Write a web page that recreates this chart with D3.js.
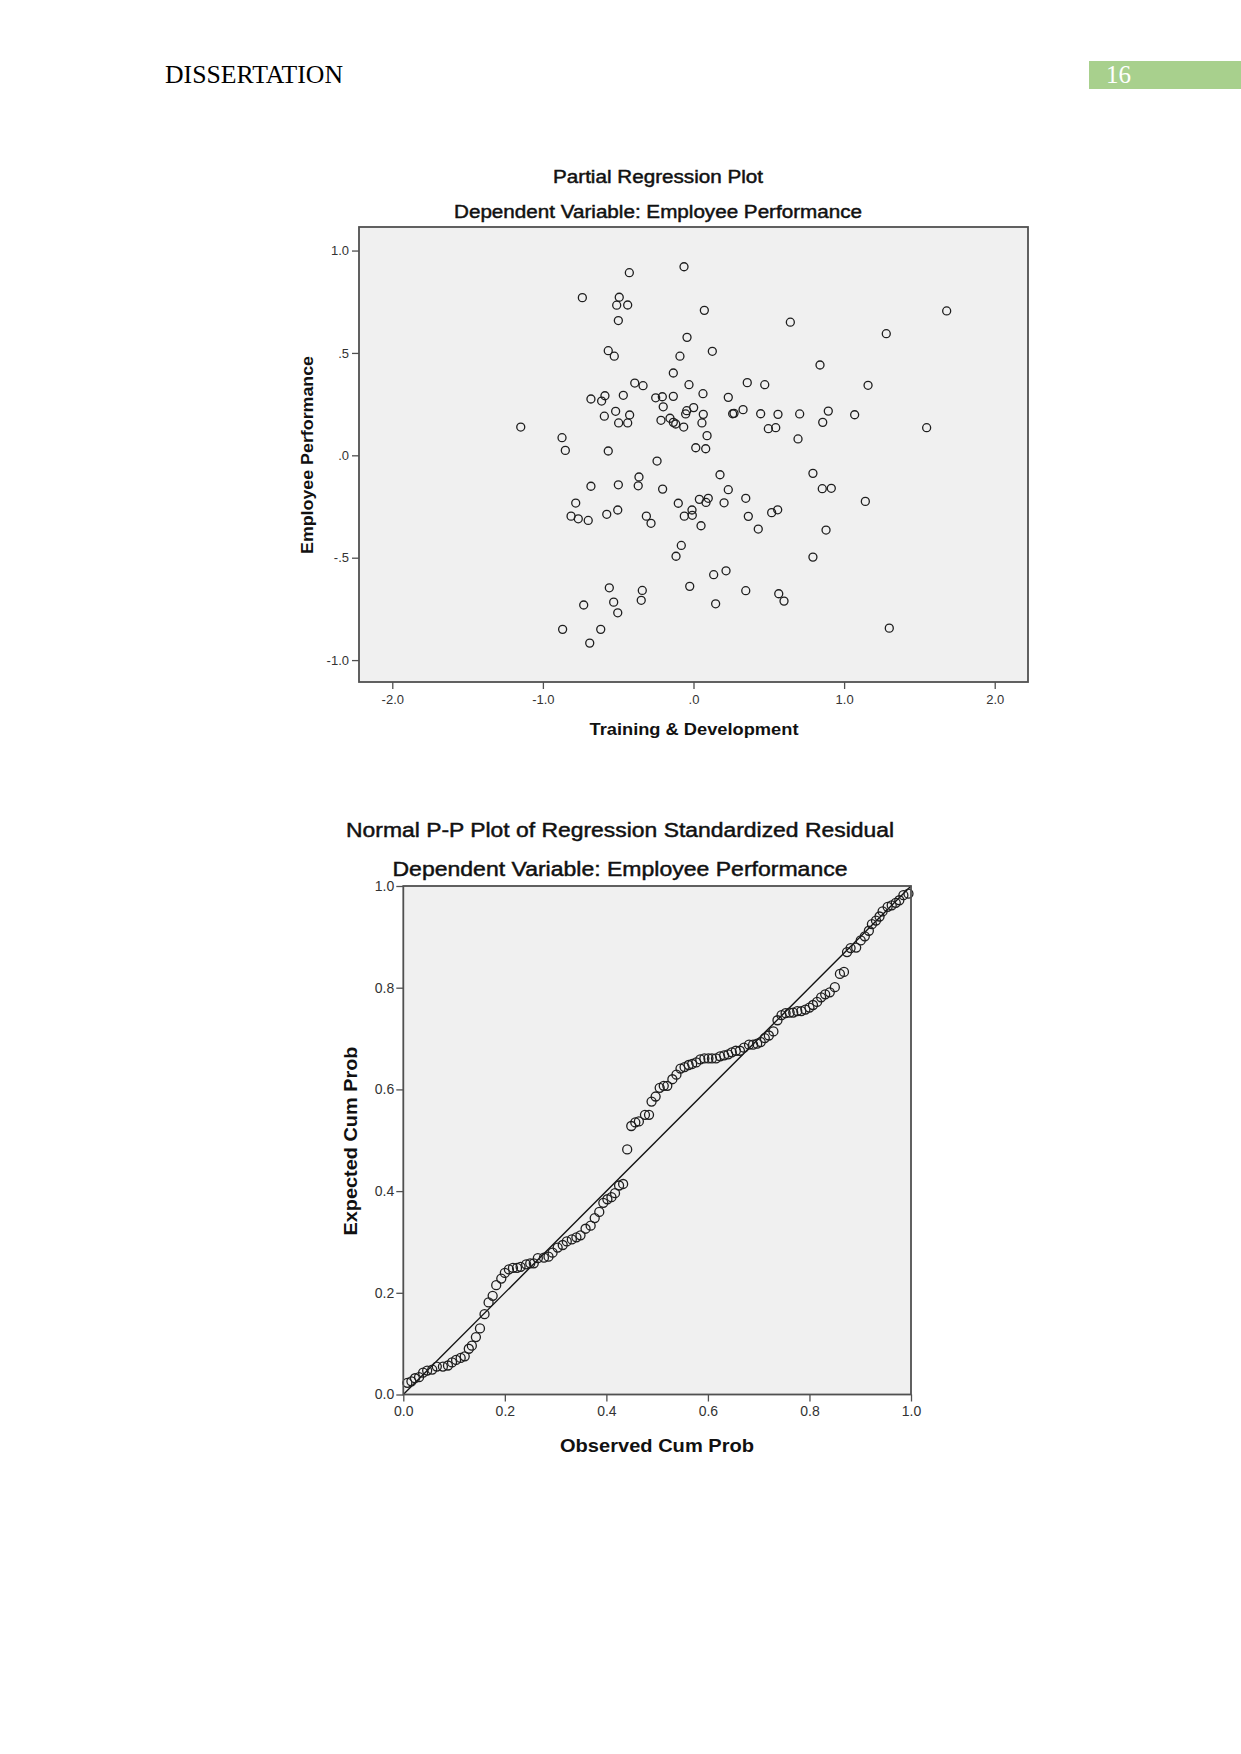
<!DOCTYPE html>
<html>
<head>
<meta charset="utf-8">
<script src="https://cdn.jsdelivr.net/npm/d3@7"></script>
<style>
	body {margin: 0; background: #fff;}
	svg {display: block;}
</style>
</head>
<body>
<div id="page"></div>
<script>

//PAGE TEXT
var headerText = "DISSERTATION";
var pageNumber = "16";

//PARTIAL REGRESSION PLOT (TRAINING & DEVELOPMENT vs EMPLOYEE PERFORMANCE)
var scatterTitle = "Partial Regression Plot";
var scatterSubtitle = "Dependent Variable: Employee Performance";
var scatterXLabel = "Training & Development";
var scatterYLabel = "Employee Performance";
var scatterXTicks = [-2, -1, 0, 1, 2];
var scatterYTicks = [-1, -0.5, 0, 0.5, 1];
var scatterX = [
	-0.426, -0.738, -0.493, -0.510, -0.437, -0.499, -0.566, -0.526, -0.390, -0.335,
	-0.681, -0.610, -0.588, -0.466, -0.251, -0.207, -0.201, -0.517, -0.592, -0.424,
	-0.497, -0.437, -0.216, -0.156, -1.147, -0.873, -0.851, -0.566, -0.242, -0.362,
	-0.367, -0.499, -0.681, -0.205, -0.782, -0.813, -0.765, -0.699, -0.576, -0.503,
	-0.313, -0.282, -0.559, -0.340, -0.347, -0.729, -0.530, -0.503, -0.869, -0.616,
	-0.689, -0.063, 0.072, 0.643, 1.681, 1.280, -0.043, -0.090, 0.125, 0.840,
	-0.134, -0.030, 0.357, 0.473, 1.159, -0.134, 0.063, 0.231, 0.001, -0.045,
	-0.052, 0.065, 0.260, 0.269, 0.329, 0.446, 0.561, 0.705, 0.895, 1.070,
	0.858,
	-0.134, -0.118, -0.065, 0.056, 0.090, 0.497, 0.546, 0.694, 1.548, 0.015,
	0.081, 0.176, 0.231, 0.793, 0.855, 0.915, -0.101, 0.039, 0.098, 0.083,
	0.203, 0.347, 1.141, -0.010, -0.061, -0.008, 0.050, 0.364, 0.519, 0.559,
	0.430, 0.880, -0.081, -0.116, 0.793, 0.216, 0.134, -0.025, 0.347, 0.566,
	0.601, 0.147, 1.300
];
var scatterY = [
	0.892, 0.770, 0.772, 0.733, 0.734, 0.658, 0.511, 0.484, 0.353, 0.340,
	0.275, 0.265, 0.291, 0.293, 0.281, 0.286, 0.237, 0.215, 0.191, 0.197,
	0.158, 0.158, 0.171, 0.181, 0.138, 0.086, 0.024, 0.021, -0.028, -0.106,
	-0.149, -0.144, -0.151, -0.165, -0.233, -0.297, -0.310, -0.318, -0.288, -0.267,
	-0.297, -0.332, -0.647, -0.660, -0.708, -0.731, -0.717, -0.769, -0.850, -0.850,
	-0.917, 0.921, 0.708, 0.650, 0.705, 0.594, 0.576, 0.484, 0.508, 0.441,
	0.402, 0.345, 0.355, 0.345, 0.342, 0.288, 0.301, 0.283, 0.233, 0.218,
	0.202, 0.200, 0.203, 0.205, 0.223, 0.203, 0.200, 0.202, 0.216, 0.198,
	0.161,
	0.161, 0.153, 0.138, 0.158, 0.096, 0.130, 0.135, 0.080, 0.135, 0.037,
	0.032, -0.095, -0.168, -0.088, -0.163, -0.161, -0.234, -0.215, -0.210, -0.230,
	-0.232, -0.210, -0.225, -0.267, -0.297, -0.293, -0.344, -0.298, -0.280, -0.266,
	-0.360, -0.365, -0.440, -0.493, -0.497, -0.564, -0.583, -0.640, -0.661, -0.676,
	-0.712, -0.725, -0.844
];

//NORMAL P-P PLOT OF REGRESSION STANDARDIZED RESIDUAL
var ppTitle = "Normal P-P Plot of Regression Standardized Residual";
var ppSubtitle = "Dependent Variable: Employee Performance";
var ppXLabel = "Observed Cum Prob";
var ppYLabel = "Expected Cum Prob";
var ppTicks = [0, 0.2, 0.4, 0.6, 0.8, 1.0];
var ppObserved = [
	.008, .016, .023, .031, .039, .047, .057, .066, .078, .088,
	.096, .104, .113, .121, .129, .135, .143, .151, .160, .168,
	.176, .183, .193, .200, .208, .216, .224, .231, .242, .250,
	.257, .265, .277, .286, .294, .304, .314, .322, .332, .341,
	.349, .359, .369, .377, .386, .394, .402, .410, .417, .425,
	.433, .441, .449, .457, .464, .476, .484, .489, .497, .505,
	.513, .520, .530, .538, .546, .554, .562, .569, .577, .585,
	.593, .601, .608, .616, .624, .632, .640, .647, .655, .663,
	.671, .681, .689, .697, .704, .712, .720, .729, .737, .745,
	.753, .761, .768, .776, .784, .792, .800, .807, .815, .823,
	.831, .840, .850, .860, .868, .874, .881, .892, .901, .909,
	.917, .923, .931, .938, .944, .954, .962, .970, .977, .985,
	.995
];
var ppExpected = [
	.023, .026, .032, .034, .043, .047, .049, .055, .055, .057,
	.063, .068, .072, .075, .090, .096, .113, .130, .158, .181,
	.194, .215, .228, .239, .246, .249, .249, .251, .256, .258,
	.258, .268, .269, .271, .279, .289, .294, .301, .305, .309,
	.313, .326, .332, .347, .359, .377, .384, .388, .396, .411,
	.414, .482, .528, .535, .537, .550, .550, .576, .586, .603,
	.607, .607, .620, .629, .641, .644, .648, .650, .653, .659,
	.661, .661, .661, .661, .665, .667, .669, .673, .676, .676,
	.682, .688, .688, .690, .693, .701, .706, .714, .736, .746,
	.750, .751, .751, .754, .754, .757, .761, .766, .772, .781,
	.787, .791, .801, .827, .831, .870, .878, .879, .893, .901,
	.912, .925, .932, .940, .950, .959, .962, .967, .972, .982,
	.985
];


var SANS = "Arial, 'Liberation Sans', sans-serif";
var SERIF = "'Times New Roman', 'Liberation Serif', serif";
var BOX_FILL = "#f0f0f0";
var BOX_STROKE = "#505050";
var INK = "#1e1e1e";

var svg = d3.select("#page").append("svg")
	.attr("width", 1241)
	.attr("height", 1754);

svg.append("rect").attr("width", 1241).attr("height", 1754).attr("fill", "#fff");

//PAGE HEADER
svg.append("text")
	.attr("x", 165).attr("y", 83)
	.style("font-family", SERIF).style("font-size", "25px")
	.attr("fill", "#000")
	.attr("textLength", 178)
	.attr("lengthAdjust", "spacingAndGlyphs")
	.text(headerText);
svg.append("rect")
	.attr("x", 1089).attr("y", 61).attr("width", 152).attr("height", 28)
	.attr("fill", "#a8d08d");
svg.append("text")
	.attr("x", 1106).attr("y", 83)
	.style("font-family", SERIF).style("font-size", "25px")
	.attr("fill", "#ffffff")
	.text(pageNumber);


//SPSS STYLE NUMBERS: ".5", "-.5", "1.0" (PLAIN HYPHEN, NOT U+2212)
function spss(v){
	return d3.format(".1f")(v).replace("\u2212", "-").replace(/^(-?)0\./, "$1.");
}

//TEXT SQUEEZED/STRETCHED TO THE WIDTH SEEN IN THE PICTURE
function label(g, text, x, y, size, weight, length, rotate){
	var t = g.append("text")
		.attr("text-anchor", "middle")
		.style("font-family", SANS)
		.style("font-size", size + "px")
		.style("font-weight", weight)
		.attr("fill", "#111")
		.attr("textLength", length)
		.attr("lengthAdjust", "spacingAndGlyphs")
		.text(text);
	if (weight == "normal") {
		//SPSS TITLES LOOK A LITTLE HEAVIER THAN PLAIN REGULAR
		t.attr("stroke", "#111").attr("stroke-width", 0.45);
	}//endif
	if (rotate) {
		t.attr("transform", "translate(" + x + "," + y + ") rotate(-90)");
	} else {
		t.attr("x", x).attr("y", y);
	}//endif
	return t;
}

function styleAxis(a, fontSize){
	a.select(".domain").remove();
	a.selectAll(".tick line").attr("stroke", BOX_STROKE).attr("stroke-width", 1.3);
	a.selectAll(".tick text")
		.attr("fill", "#333")
		.style("font-family", SANS)
		.style("font-size", fontSize + "px");
}


function panel(params){
	var g = svg.append("g");
	var box = params.box;
	var x = d3.scaleLinear().domain(params.xDomain).range([box.left, box.right]);
	var y = d3.scaleLinear().domain(params.yDomain).range([box.bottom, box.top]);

	g.append("rect")
		.attr("x", box.left).attr("y", box.top)
		.attr("width", box.right - box.left).attr("height", box.bottom - box.top)
		.attr("fill", BOX_FILL);

	//AXES
	var xa = g.append("g")
		.attr("transform", "translate(0," + box.bottom + ")")
		.call(d3.axisBottom(x).tickValues(params.xTicks).tickFormat(params.format)
			.tickSize(params.tickSize).tickPadding(params.xPad));
	styleAxis(xa, params.tickFont);

	var ya = g.append("g")
		.attr("transform", "translate(" + box.left + ",0)")
		.call(d3.axisLeft(y).tickValues(params.yTicks).tickFormat(params.format)
			.tickSize(params.tickSize).tickPadding(params.yPad));
	styleAxis(ya, params.tickFont);

	//REFERENCE LINE
	if (params.diagonal) {
		g.append("line")
			.attr("x1", x(0)).attr("y1", y(0))
			.attr("x2", x(1)).attr("y2", y(1))
			.attr("stroke", "#111").attr("stroke-width", 1.4);
	}//endif

	//POINTS
	g.append("g").selectAll("circle")
		.data(d3.zip(params.xs, params.ys))
		.enter()
		.append("circle")
		.attr("cx", function(d){ return x(d[0]); })
		.attr("cy", function(d){ return y(d[1]); })
		.attr("r", params.radius)
		.attr("fill", "none")
		.attr("stroke", INK)
		.attr("stroke-width", 1.3);

	g.append("rect")
		.attr("x", box.left).attr("y", box.top)
		.attr("width", box.right - box.left).attr("height", box.bottom - box.top)
		.attr("fill", "none")
		.attr("stroke", BOX_STROKE)
		.attr("stroke-width", 1.8);

	//TITLES AND AXIS NAMES
	var t = params.titles;
	label(g, params.title, t.cx, t.titleY, t.titleSize, "normal", t.titleLen);
	label(g, params.subtitle, t.cx, t.subY, t.titleSize, "normal", t.subLen);
	label(g, params.xLabel, t.xLabelX, t.xLabelY, t.labelSize, "bold", t.xLabelLen);
	label(g, params.yLabel, t.yLabelX, t.yLabelY, t.labelSize, "bold", t.yLabelLen, true);
}


panel({
	"box": {"left": 359, "right": 1028, "top": 227, "bottom": 682},
	"xDomain": [-2.221, 2.221],
	"yDomain": [-1.107, 1.115],
	"xTicks": scatterXTicks,
	"yTicks": scatterYTicks,
	"format": spss,
	"tickSize": 7,
	"xPad": 6,
	"yPad": 3,
	"tickFont": 13,
	"radius": 4,
	"xs": scatterX,
	"ys": scatterY,
	"title": scatterTitle,
	"subtitle": scatterSubtitle,
	"xLabel": scatterXLabel,
	"yLabel": scatterYLabel,
	"titles": {
		"cx": 658, "titleY": 183, "subY": 218, "titleSize": 17.5, "titleLen": 210, "subLen": 408,
		"labelSize": 17, "xLabelX": 694, "xLabelY": 735, "xLabelLen": 209,
		"yLabelX": 313, "yLabelY": 455, "yLabelLen": 198
	}
});

panel({
	"box": {"left": 403.3, "right": 911, "top": 886, "bottom": 1394.5},
	"xDomain": [0, 1],
	"yDomain": [0, 1],
	"xTicks": ppTicks,
	"yTicks": ppTicks,
	"format": function(v){ return d3.format(".1f")(v); },
	"tickSize": 7,
	"xPad": 5,
	"yPad": 2,
	"tickFont": 14,
	"radius": 4.5,
	"diagonal": true,
	"xs": ppObserved,
	"ys": ppExpected,
	"title": ppTitle,
	"subtitle": ppSubtitle,
	"xLabel": ppXLabel,
	"yLabel": ppYLabel,
	"titles": {
		"cx": 620, "titleY": 837, "subY": 876, "titleSize": 20, "titleLen": 548, "subLen": 455,
		"labelSize": 19, "xLabelX": 657, "xLabelY": 1452, "xLabelLen": 194,
		"yLabelX": 357, "yLabelY": 1141, "yLabelLen": 189
	}
});

</script>
</body>
</html>
